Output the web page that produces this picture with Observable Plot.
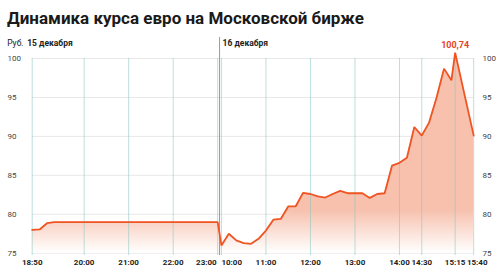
<!DOCTYPE html>
<html><head><meta charset="utf-8">
<script src="https://cdn.jsdelivr.net/npm/d3@7"></script>
<script src="https://cdn.jsdelivr.net/npm/@observablehq/plot@0.6"></script>
<style>
body{margin:0;background:#fff;font-family:Roboto, sans-serif;}
#wrap{position:relative;width:500px;height:273px;overflow:hidden;background:#fff;}
#title{position:absolute;left:7px;top:10px;font-size:17px;line-height:17px;font-weight:700;color:#1a1a1a;white-space:nowrap;}
#chart{position:absolute;left:0;top:30px;}
</style></head><body>
<div id="wrap"><div id="title">Динамика курса евро на Московской бирже</div><div id="chart"></div></div>
<script>
// ---- data ----
const day1Times = ["18:50","19:00","19:10","19:20","23:00"];
const day1Values = [78.0, 78.05, 78.85, 79.0, 79.0];
const day2Times = ["10:00","10:10","10:20","10:30","10:40","10:50",
  "11:00","11:10","11:20","11:30","11:40","11:50",
  "12:00","12:10","12:20","12:30","12:40","12:50",
  "13:00","13:10","13:20","13:30","13:40","13:50",
  "14:00","14:10","14:20","14:30","14:40","14:50",
  "15:00","15:10","15:15","15:40"];
const day2Values = [76.0, 77.5, 76.65, 76.3, 76.2, 76.85,
  77.9, 79.3, 79.4, 81.0, 81.0, 82.75,
  82.6, 82.3, 82.15, 82.6, 83.0, 82.7,
  82.7, 82.7, 82.1, 82.6, 82.7, 86.25,
  86.6, 87.25, 91.2, 90.1, 91.8, 95.0,
  98.7, 97.2, 100.74, 90.1];
const day1Ticks = ["18:50","20:00","21:00","22:00","23:00"];
const day2Ticks = ["10:00","11:00","12:00","13:00","14:00","14:30","15:15","15:40"];
const yTicks = [75, 80, 85, 90, 95, 100];
const dayLabels = ["15 декабря", "16 декабря"];
const unitLabel = "Руб.";

// ---- trading-time axis (overnight break collapsed) ----
const mins = s => { const [h, m] = s.split(":").map(Number); return h * 60 + m; };
const GAP = 5;
const day1Span = mins(day1Times[day1Times.length - 1]) - mins(day1Times[0]);
const xOf = (day, t) => day === 1 ? mins(t) - mins(day1Times[0])
                                  : day1Span + GAP + mins(t) - mins(day2Times[0]);
const rows = [
  ...day1Times.map((t, i) => ({day: 1, time: t, x: xOf(1, t), v: day1Values[i]})),
  ...day2Times.map((t, i) => ({day: 2, time: t, x: xOf(2, t), v: day2Values[i]}))
];
const xEnd = xOf(2, day2Times[day2Times.length - 1]);
const dividerX = day1Span + GAP / 2;
const ticks = [...day1Ticks.map(t => ({x: xOf(1, t), label: t})), ...day2Ticks.map(t => ({x: xOf(2, t), label: t}))];
const labelOf = new Map(ticks.map(d => [d.x, d.label]));
const lastDay1 = xOf(1, day1Ticks[day1Ticks.length - 1]);
const firstDay2 = xOf(2, day2Ticks[0]);
const lastTick = xOf(2, day2Ticks[day2Ticks.length - 1]);
const peak = rows.reduce((a, b) => b.v > a.v ? b : a);
const fmtComma = v => d3.format(".2f")(v).replace(".", ",");

const LINE = "#ef5523";
const axisText = {tickSize: 0, tickPadding: 6.5, fontSize: 8, fontWeight: "bold", fill: "#222", label: null, tickFormat: x => labelOf.get(x)};
const chart = Plot.plot({
  width: 500, height: 243,
  marginLeft: 31.7, marginRight: 26.8, marginTop: 28, marginBottom: 20.3,
  style: {fontFamily: "Roboto, sans-serif", background: "transparent", overflow: "visible"},
  x: {domain: [0, xEnd]},
  y: {domain: [75, 100]},
  marks: [
    (index, scales) => {
      const defs = d3.create("svg:defs");
      const g = defs.append("linearGradient").attr("id", "eurGrad")
        .attr("gradientUnits", "userSpaceOnUse")
        .attr("x1", 0).attr("x2", 0)
        .attr("y1", scales.y(80.5)).attr("y2", scales.y(75));
      g.append("stop").attr("offset", 0).attr("stop-color", "#f7c1ae");
      g.append("stop").attr("offset", 1).attr("stop-color", "#ffffff");
      return defs.node();
    },
    Plot.ruleY(yTicks, {x1: 0, x2: xEnd, stroke: "#e8e8e8", strokeWidth: 1}),
    Plot.areaY(rows, {x: "x", y1: 75, y2: "v", fill: "url(#eurGrad)"}),
    Plot.ruleX(ticks, {x: "x", y1: 74.7, y2: 100, stroke: "#86c6bf", strokeOpacity: 0.55}),
    Plot.ruleX([dividerX], {y1: 74.7, y2: 102.7, stroke: "#9b9b9b", strokeWidth: 1}),
    Plot.line(rows, {x: "x", y: "v", z: null, stroke: LINE, strokeWidth: 1.8, strokeLinejoin: "miter"}),
    Plot.text([peak], {x: "x", y: "v", text: d => fmtComma(d.v), dy: -5, lineAnchor: "bottom",
      fill: "#e8441c", fontWeight: "bold", fontSize: 9}),
    Plot.text([unitLabel], {frameAnchor: "top-left", dx: -25, dy: -15.7, lineAnchor: "middle",
      textAnchor: "start", fontSize: 8.5, fill: "#222"}),
    Plot.text([dayLabels[0]], {frameAnchor: "top-left", dx: -5, dy: -15.7, lineAnchor: "middle",
      textAnchor: "start", fontSize: 8.5, fontWeight: "bold", fill: "#222"}),
    Plot.text([dayLabels[1]], {x: () => dividerX, frameAnchor: "top", dx: 3, dy: -15.7, lineAnchor: "middle",
      textAnchor: "start", fontSize: 8.5, fontWeight: "bold", fill: "#222"}),
    Plot.axisY({anchor: "left", ticks: yTicks, tickSize: 0, tickPadding: 24.7, textAnchor: "start",
      fontSize: 8, fill: "#444", label: null}),
    Plot.axisY({anchor: "right", ticks: yTicks, tickSize: 0, tickPadding: 8.8, textAnchor: "start",
      fontSize: 8, fill: "#444", label: null}),
    Plot.axisX({...axisText, ticks: ticks.map(d => d.x).filter(x => x !== lastDay1 && x !== firstDay2 && x !== lastTick)}),
    Plot.axisX({...axisText, ticks: [lastDay1], textAnchor: "end", dx: -1}),
    Plot.axisX({...axisText, ticks: [firstDay2], textAnchor: "start", dx: 0}),
    Plot.axisX({...axisText, ticks: [lastTick], dx: 3.5})
  ]
});
document.getElementById("chart").appendChild(chart);
</script>
</body></html>
